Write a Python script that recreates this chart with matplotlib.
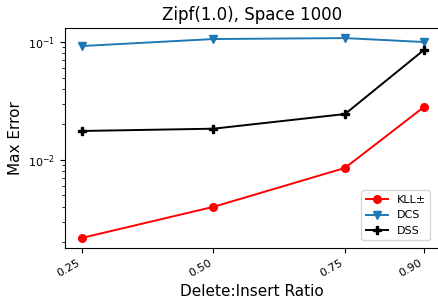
import numpy as np
import matplotlib
matplotlib.use("Agg")
import matplotlib.pyplot as plt

ratios = [0.25, 0.50, 0.75, 0.90]
tick_labels = ["0.25", "0.50", "0.75", "0.90"]
kll = [0.00218, 0.0040, 0.00855, 0.0281]
dcs = [0.0925, 0.106, 0.108, 0.100]
dss = [0.0176, 0.0184, 0.0245, 0.0856]

fig = plt.figure(figsize=(4.38, 3.0), dpi=100)
# axes run past the right edge of the picture, like the cropped original
ax = fig.add_axes([65 / 438, 1 - 248 / 300, 390 / 438, 220 / 300])

ax.plot(ratios, kll, color="red", marker="o", markersize=5.5, linewidth=1.4, label="KLL±")
ax.plot(ratios, dcs, color="#1f77b4", marker="v", markersize=5.5, linewidth=1.4, label="DCS")
ax.plot(ratios, dss, color="black", marker="P", markersize=5.5, linewidth=1.4, label="DSS")

ax.set_yscale("log")
ax.set_ylim(0.00179, 0.1315)
ax.set_xlim(0.2177, 0.2177 + 390 / 526)
ax.set_xticks(ratios)
ax.set_xticklabels(tick_labels, rotation=30, ha="right", fontsize=8)
ax.tick_params(axis="y", labelsize=8)
ax.set_xlabel("Delete:Insert Ratio", fontsize=11, x=0.48)
ax.set_ylabel("Max Error", fontsize=11)
ax.set_title("Zipf(1.0), Space 1000", fontsize=12, x=0.48)
ax.legend(loc="lower right", fontsize=8,
          bbox_to_anchor=(436 / 438, 1 - 246 / 300), bbox_transform=fig.transFigure)

fig.savefig("out.png", dpi=100)
